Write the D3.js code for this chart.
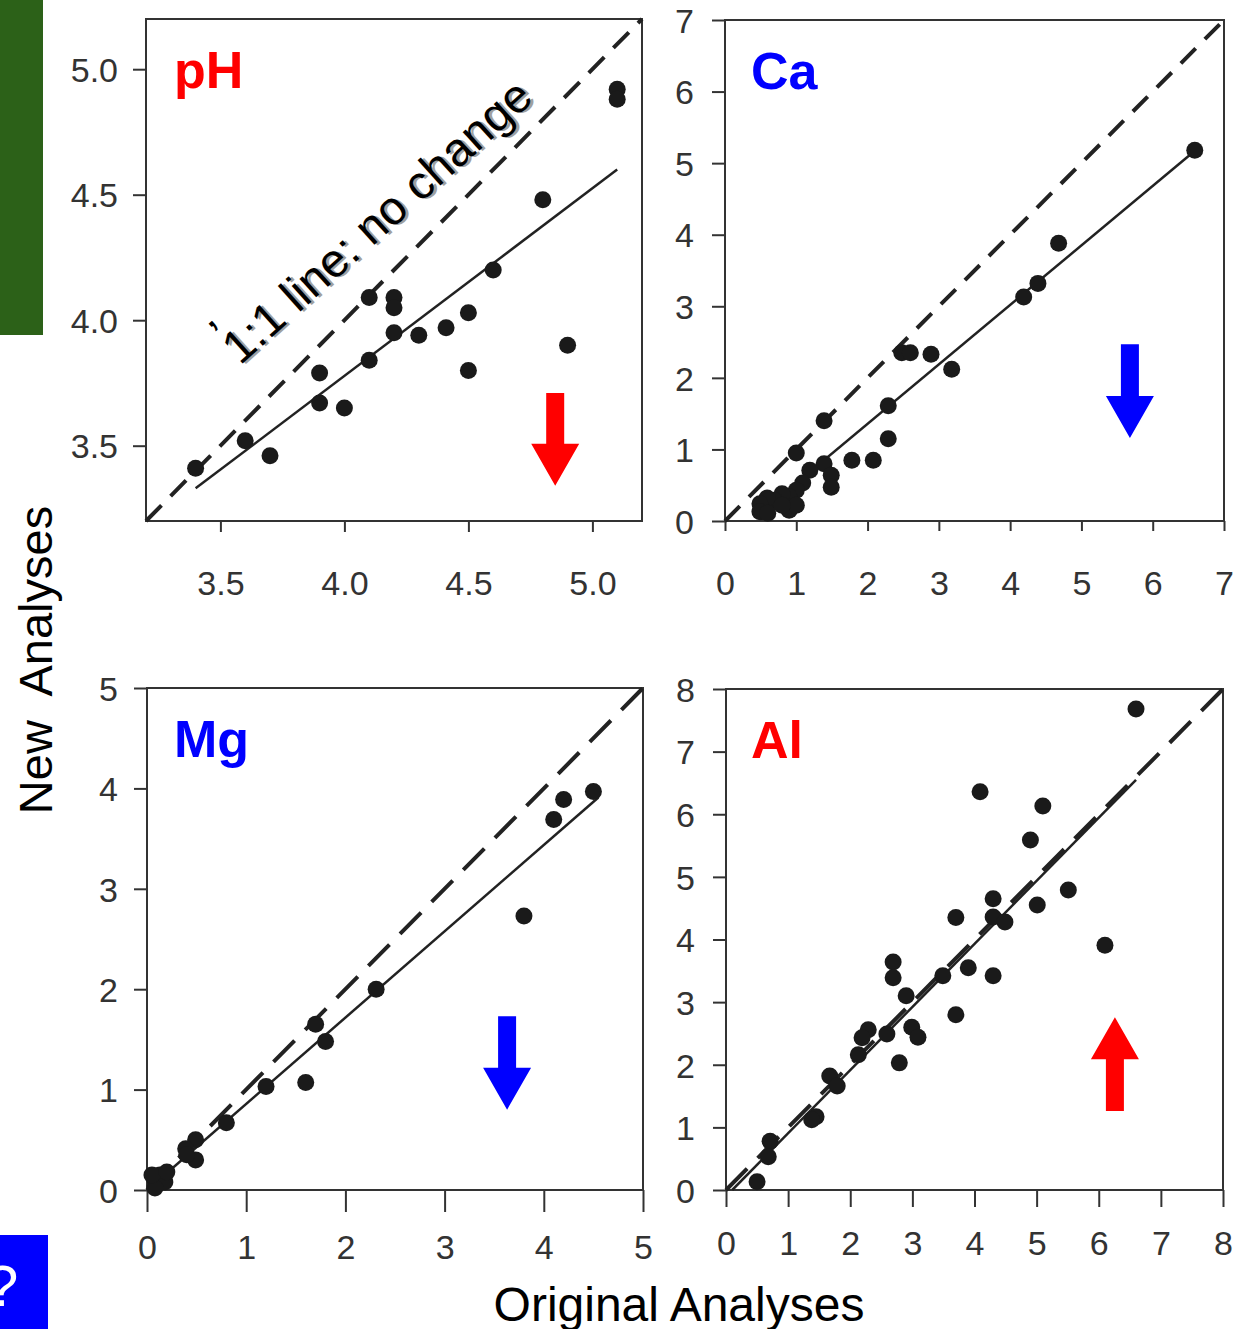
<!DOCTYPE html>
<html>
  <head>
    <script src="https://d3js.org/d3.v7.min.js"></script>
    <style>
      body { margin: 0; background: white; }
      .axis text { font-family: "Liberation Sans", Arial, sans-serif; font-size: 34px; fill: #333; }
      .axis line { stroke: #333; stroke-width: 2; }
      .big { font-family: "Liberation Sans", Arial, sans-serif; white-space: pre; }
    </style>
  </head>
  <body>
    <script>
      var width = 1234;
      var height = 1329;

      // pH: original vs new
      var phX = [3.40, 3.60, 3.70, 3.90, 3.90, 4.00, 4.10, 4.10, 4.20, 4.20, 4.20, 4.30, 4.41, 4.50, 4.50, 4.60, 4.80, 4.90, 5.10, 5.10];
      var phY = [3.41, 3.52, 3.46, 3.79, 3.67, 3.65, 4.09, 3.84, 4.09, 4.05, 3.95, 3.94, 3.97, 4.03, 3.80, 4.20, 4.48, 3.90, 4.92, 4.88];
      var phFit = [[3.40, 3.33], [5.10, 4.60]];
      var phTicks = [3.5, 4.0, 4.5, 5.0];

      // Ca
      var caX = [6.59, 4.68, 4.39, 4.19, 2.89, 3.18, 2.48, 2.60, 2.29, 2.29, 2.08, 1.78, 1.39, 1.00, 1.39, 1.49, 1.49, 1.19, 1.09, 1.00, 0.90, 0.80, 0.69, 0.59, 0.49, 0.49, 0.60, 0.90, 1.00, 0.80];
      var caY = [5.18, 3.88, 3.32, 3.13, 2.33, 2.12, 2.35, 2.35, 1.61, 1.15, 0.85, 0.85, 1.40, 0.95, 0.80, 0.64, 0.47, 0.71, 0.53, 0.43, 0.34, 0.38, 0.29, 0.32, 0.24, 0.13, 0.11, 0.15, 0.22, 0.22];
      var caFit = [[0.45, 0.07], [6.60, 5.18]];
      var caTicks = [0, 1, 2, 3, 4, 5, 6, 7];

      // Mg
      var mgX = [4.50, 4.20, 4.10, 3.80, 2.31, 1.70, 1.80, 1.60, 1.20, 0.80, 0.49, 0.39, 0.49, 0.40, 0.08, 0.13, 0.18, 0.08, 0.05, 0.20];
      var mgY = [3.97, 3.89, 3.69, 2.73, 2.00, 1.65, 1.48, 1.07, 1.03, 0.67, 0.50, 0.41, 0.30, 0.35, 0.10, 0.15, 0.08, 0.02, 0.15, 0.18];
      var mgFit = [[0.05, 0.04], [4.55, 3.91]];
      var mgTicks = [0, 1, 2, 3, 4, 5];

      // Al
      var alX = [6.60, 4.09, 5.10, 4.90, 5.51, 5.01, 4.30, 4.30, 4.49, 3.70, 6.10, 3.90, 3.49, 4.30, 3.70, 2.69, 2.69, 2.90, 2.99, 3.09, 2.79, 2.59, 2.29, 2.19, 2.13, 1.67, 1.79, 1.45, 1.38, 0.71, 0.68, 0.50];
      var alY = [7.68, 6.36, 6.13, 5.59, 4.79, 4.55, 4.65, 4.36, 4.28, 4.35, 3.91, 3.55, 3.42, 3.42, 2.80, 3.64, 3.39, 3.10, 2.60, 2.44, 2.03, 2.49, 2.56, 2.43, 2.16, 1.82, 1.66, 1.17, 1.12, 0.78, 0.53, 0.13];
      var alFit = [[0.10, 0.00], [6.60, 6.55]];
      var alTicks = [0, 1, 2, 3, 4, 5, 6, 7, 8];

      var svg = d3.select("body")
        .append("svg")
        .attr("width", width)
        .attr("height", height);

      svg.append("rect").attr("x", 0).attr("y", 0).attr("width", width).attr("height", height).attr("fill", "white");

      // slide decorations
      svg.append("rect").attr("x", 0).attr("y", 0).attr("width", 43).attr("height", 335).attr("fill", "#2c6118");
      svg.append("rect").attr("x", 0).attr("y", 1235).attr("width", 48).attr("height", 94).attr("fill", "#0000ff");
      svg.append("text").attr("class", "big").attr("x", 2).attr("y", 1306)
        .attr("text-anchor", "middle").attr("font-size", "58px").attr("fill", "white").text("?");

      function panel(o) {
        var x = d3.scaleLinear().domain(o.domain).range([o.left, o.right]);
        var y = d3.scaleLinear().domain(o.domain).range([o.bottom, o.top]);
        var g = svg.append("g");

        g.append("g")
          .attr("class", "axis")
          .attr("transform", `translate(0,${o.bottom})`)
          .call(d3.axisBottom(x).tickValues(o.ticks).tickFormat(o.fmt)
            .tickSize(o.xTick).tickSizeOuter(0).tickPadding(o.xPad))
          .call(a => a.select(".domain").remove());

        g.append("g")
          .attr("class", "axis")
          .attr("transform", `translate(${o.left},0)`)
          .call(d3.axisLeft(y).tickValues(o.ticks).tickFormat(o.fmt)
            .tickSize(13).tickSizeOuter(0).tickPadding(o.yPad))
          .call(a => a.select(".domain").remove())
          .selectAll("text").attr("dy", "0.36em");

        g.selectAll(".axis text").attr("font-family", null).attr("font-size", null).attr("fill", null);

        g.append("rect")
          .attr("x", o.left).attr("y", o.top)
          .attr("width", o.right - o.left).attr("height", o.bottom - o.top)
          .attr("fill", "none").attr("stroke", "#333").attr("stroke-width", 2);

        // 1:1 line
        g.append("line")
          .attr("x1", x(o.domain[0])).attr("y1", y(o.domain[0]))
          .attr("x2", x(o.domain[1])).attr("y2", y(o.domain[1]))
          .attr("stroke", "#222").attr("stroke-width", 4)
          .attr("stroke-dasharray", o.dash);

        // fitted line
        g.append("line")
          .attr("x1", x(o.fit[0][0])).attr("y1", y(o.fit[0][1]))
          .attr("x2", x(o.fit[1][0])).attr("y2", y(o.fit[1][1]))
          .attr("stroke", "#222").attr("stroke-width", 2.5);

        g.selectAll("circle.pt")
          .data(o.xs.map((v, i) => [v, o.ys[i]]))
          .enter()
          .append("circle")
            .attr("class", "pt")
            .attr("cx", d => x(d[0]))
            .attr("cy", d => y(d[1]))
            .attr("r", 8.5)
            .attr("fill", "#1a1a1a");

        g.append("text")
          .attr("class", "big")
          .attr("x", o.left + o.labelDx).attr("y", o.top + 69)
          .attr("font-size", "52px").attr("font-weight", "bold")
          .attr("fill", o.color)
          .text(o.name);

        // arrow: shaft + head, tail and tip given in data units
        var ax = x(o.arrow[0]), ya = y(o.arrow[1]), yb = y(o.arrow[2]);
        var dir = yb > ya ? 1 : -1;
        var hb = yb - dir * 42;
        g.append("path")
          .attr("d", `M${ax - 9},${ya} L${ax + 9},${ya} L${ax + 9},${hb} L${ax + 24},${hb} L${ax},${yb} L${ax - 24},${hb} L${ax - 9},${hb} Z`)
          .attr("fill", o.color);

        return {x: x, y: y};
      }

      var fmt1 = d3.format(".1f");
      var fmt0 = d3.format("d");

      panel({name: "pH", color: "#ff0000", domain: [3.2, 5.2], left: 146, top: 19, right: 642, bottom: 521,
        ticks: phTicks, fmt: fmt1, xTick: 11, xPad: 39, yPad: 15, dash: "22,13", labelDx: 28,
        xs: phX, ys: phY, fit: phFit, arrow: [4.85, 3.71, 3.34]});
      panel({name: "Ca", color: "#0000ff", domain: [0, 7], left: 725, top: 20, right: 1224, bottom: 521,
        ticks: caTicks, fmt: fmt0, xTick: 10, xPad: 40, yPad: 18, dash: "21,13", labelDx: 26,
        xs: caX, ys: caY, fit: caFit, arrow: [5.68, 2.47, 1.16]});
      panel({name: "Mg", color: "#0000ff", domain: [0, 5], left: 147, top: 688, right: 643, bottom: 1190,
        ticks: mgTicks, fmt: fmt0, xTick: 22, xPad: 23, yPad: 16, dash: "30,15", labelDx: 27,
        xs: mgX, ys: mgY, fit: mgFit, arrow: [3.63, 1.73, 0.80]});
      panel({name: "Al", color: "#ff0000", domain: [0, 8], left: 726, top: 689, right: 1223, bottom: 1190,
        ticks: alTicks, fmt: fmt0, xTick: 17, xPad: 24, yPad: 18, dash: "30,15", labelDx: 25,
        xs: alX, ys: alY, fit: alFit, arrow: [6.26, 1.26, 2.76]});

      // annotation on the pH 1:1 line
      var note = svg.append("g").attr("transform", "translate(240,366) rotate(-42)");
      note.append("text").attr("class", "big").attr("x", 2).attr("y", 2.5)
        .attr("font-size", "47px").attr("fill", "#a0a0a0").text("1:1 line: no change");
      note.append("text").attr("class", "big").attr("x", 0).attr("y", 0)
        .attr("font-size", "47px").attr("fill", "black").text("1:1 line: no change");
      note.append("text").attr("class", "big").attr("x", 2).attr("y", -20)
        .attr("font-size", "47px").attr("fill", "black").text("’");

      svg.append("text")
        .attr("class", "big")
        .attr("transform", "translate(52,660) rotate(-90)")
        .attr("text-anchor", "middle")
        .attr("font-size", "47px")
        .text("New  Analyses");

      svg.append("text")
        .attr("class", "big")
        .attr("x", 679).attr("y", 1321)
        .attr("text-anchor", "middle")
        .attr("font-size", "48px")
        .text("Original Analyses");
    </script>
  </body>
</html>
